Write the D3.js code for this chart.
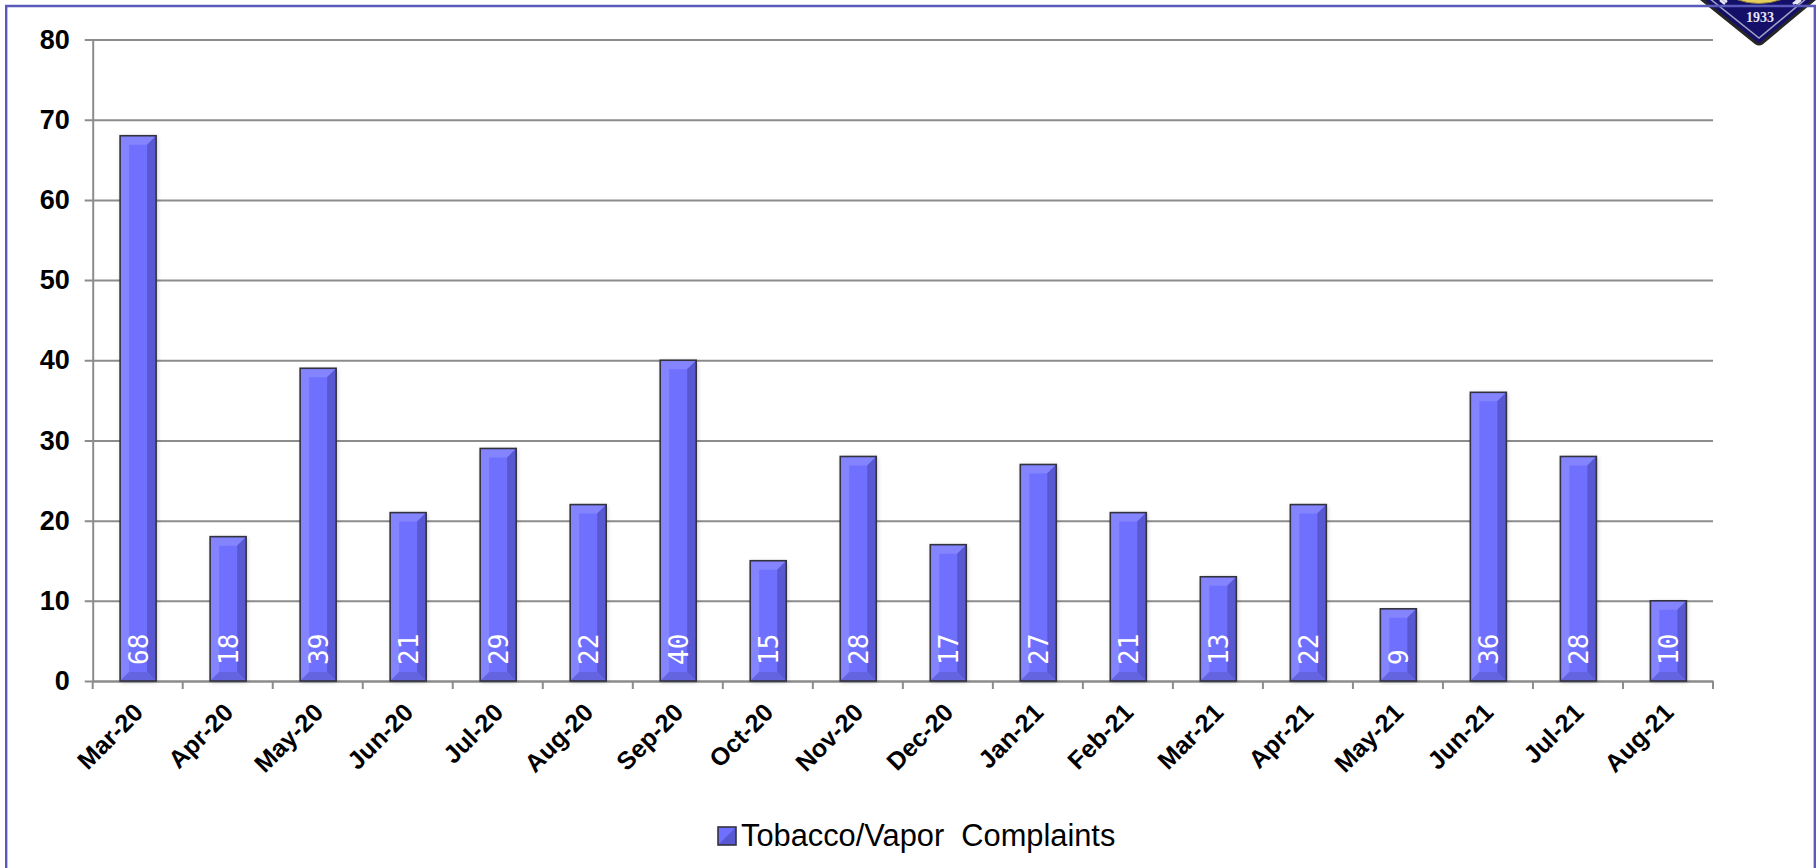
<!DOCTYPE html>
<html><head><meta charset="utf-8">
<script src="https://cdn.jsdelivr.net/npm/d3@7/dist/d3.min.js"></script>
<style>html,body{margin:0;padding:0;background:#fff;overflow:hidden}svg{display:block}</style>
</head><body><svg id="c" width="1816" height="868"></svg>
<script>
const months = ["Mar-20","Apr-20","May-20","Jun-20","Jul-20","Aug-20","Sep-20","Oct-20","Nov-20","Dec-20","Jan-21","Feb-21","Mar-21","Apr-21","May-21","Jun-21","Jul-21","Aug-21"];
const complaints = [68,18,39,21,29,22,40,15,28,17,27,21,13,22,9,36,28,10];
const yTicks = [0,10,20,30,40,50,60,70,80];
const seriesName = "Tobacco/Vapor  Complaints";

const svg = d3.select("#c");
const plot = {left:92.7,right:1713,top:39.5,bottom:681};
const x = d3.scaleBand().domain(months).range([plot.left,plot.right]).padding(0);
const y = d3.scaleLinear().domain([0,80]).range([plot.bottom,plot.top]);
const barW = 36, bevel = 9, barShift = 0.4;
const axisColor = "#8c8c8c";
const defs = svg.append("defs");
defs.append("filter").attr("id","shade").attr("x","-30%").attr("width","160%").attr("y","-5%").attr("height","110%")
  .append("feDropShadow").attr("dx",1).attr("dy",1).attr("stdDeviation",2).attr("flood-color","#000").attr("flood-opacity",0.25);

// Crest peeking in at the top right corner, behind the frame
const crest = svg.append("g");
crest.append("path").attr("d","M1700,-2 L1756,43 Q1759,45 1762,43 L1816,-2 Z")
  .attr("fill","#14106a").attr("stroke","#262626").attr("stroke-width",3);
crest.append("path").attr("d","M1709,-2 L1759,38 L1807,-2").attr("fill","none").attr("stroke","#a4a4c0").attr("stroke-width",1.5);
crest.append("path").attr("d","M1735,-1 Q1759,8 1783,-1 Z").attr("fill","#e6cf5c").attr("stroke","#8a7f40");
crest.append("path").attr("d","M1720,0 L1725,4 M1723,-1 L1727,2 M1793,4 L1798,0 M1796,4 L1801,0").attr("stroke","#e8e8f4").attr("stroke-width",2.5).attr("fill","none");
crest.append("text").attr("x",1760).attr("y",22).attr("text-anchor","middle").attr("fill","#e4e4ee")
  .style("font","bold 14px 'Liberation Serif'").text("1933");
svg.append("path").attr("d","M6.2,870 V6 H1814.8 V870").attr("fill","none").attr("stroke","#5a5abc").attr("stroke-width",2.4);

// Gridlines and axes
const yAxis = d3.axisLeft(y).tickValues(yTicks).tickSize(8).tickSizeOuter(0).tickPadding(15);
const gy = svg.append("g").attr("transform",`translate(${plot.left},0)`).call(yAxis);
gy.selectAll(".tick line").attr("x2",plot.right-plot.left).attr("x1",-8);
const xAxis = d3.axisBottom(x).tickSize(0).tickFormat(d=>d);
const gx = svg.append("g").attr("transform",`translate(0,${plot.bottom})`).call(xAxis);
svg.selectAll(".domain").attr("stroke",axisColor).attr("stroke-width",2);
svg.selectAll(".tick line").attr("stroke",axisColor).attr("stroke-width",2);
gy.selectAll("text").attr("fill","#000").style("font","bold 27px 'Liberation Sans'");
gx.selectAll("text").attr("fill","#000").attr("text-anchor","end").attr("dy",0).attr("y",0)
  .attr("transform","translate(7,33) rotate(-45)").style("font","bold 25px 'Liberation Sans'");
const tickEdges = months.map(m=>x(m)).concat(plot.right);
svg.append("g").selectAll("line").data(tickEdges).join("line")
  .attr("x1",d=>d).attr("x2",d=>d).attr("y1",plot.bottom).attr("y2",plot.bottom+8)
  .attr("stroke",axisColor).attr("stroke-width",2);

// Bevelled bars
const rows = months.map((m,i)=>({m,v:complaints[i]}));
const h = d=>plot.bottom-y(d.v);
const bars = svg.append("g").selectAll("g").data(rows).join("g")
  .attr("transform",d=>`translate(${x(d.m)+x.bandwidth()/2-barW/2+barShift},${y(d.v)})`);
bars.append("rect").attr("width",barW).attr("height",h).attr("fill","#7070ff").attr("filter","url(#shade)");
bars.append("path").attr("fill","#8484ff").attr("d",d=>`M0,0 H${barW} L${barW-bevel},${bevel} H${bevel} V${h(d)-bevel} L0,${h(d)} Z`);
bars.append("path").attr("fill","#5858d2").attr("d",d=>`M${barW},0 V${h(d)} L${barW-bevel},${h(d)-bevel} V${bevel} Z`);
bars.append("path").attr("fill","#6464e0").attr("d",d=>`M0,${h(d)} H${barW} L${barW-bevel},${h(d)-bevel} H${bevel} Z`);
bars.append("rect").attr("width",barW).attr("height",h).attr("fill","none").attr("stroke","#33333f").attr("stroke-width",1.6);

// Values run up the inside of each bar
svg.append("g").selectAll("text").data(rows).join("text")
  .attr("transform",d=>`translate(${x(d.m)+x.bandwidth()/2+barShift+10},${plot.bottom-16}) rotate(-90)`)
  .attr("fill","#fff").style("font","26px 'DejaVu Sans Mono'").text(d=>d.v);

// Legend
const lg = svg.append("g").attr("transform","translate(718,827)");
lg.append("rect").attr("width",18).attr("height",18).attr("fill","#7070ff");
lg.append("path").attr("d","M18,0 V18 H0 Z").attr("fill","#5858d2");
lg.append("rect").attr("width",18).attr("height",18).attr("fill","none").attr("stroke","#33333f").attr("stroke-width",1.6);
lg.append("text").attr("x",23).attr("y",19).attr("xml:space","preserve").style("white-space","pre").attr("fill","#000")
  .style("font","30.8px 'Liberation Sans'").text(seriesName);
</script></body></html>
